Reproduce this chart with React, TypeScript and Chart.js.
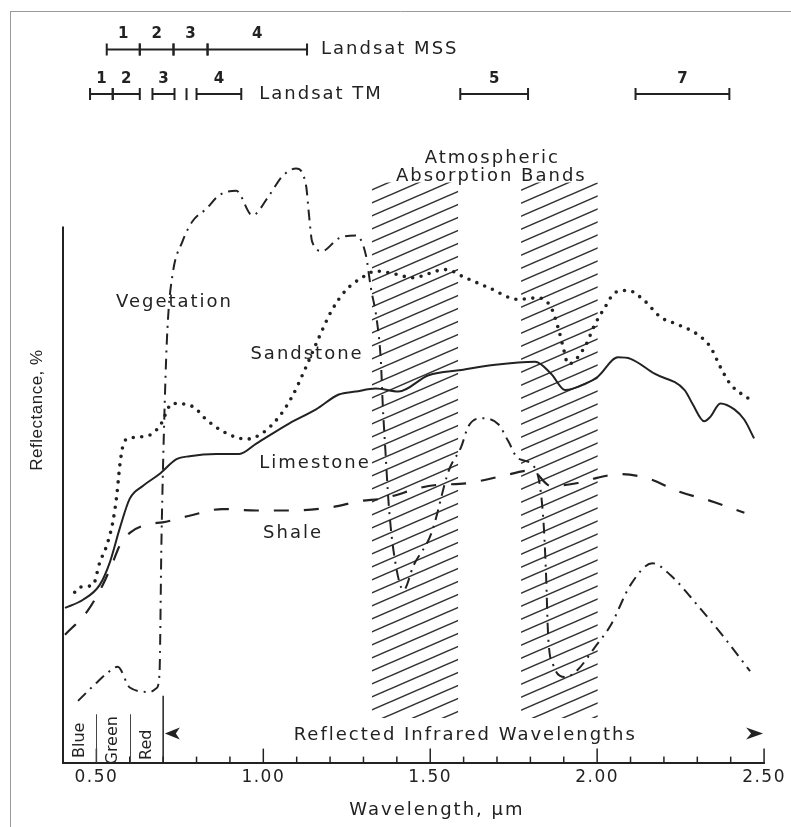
import { useEffect, useRef } from 'react';
import { Chart, registerables } from 'chart.js';

Chart.register(...registerables);

// ---------- data (wavelength in µm, reflectance in relative %) ----------
const vegWl = [0.445, 0.495, 0.534, 0.564, 0.600, 0.660, 0.680, 0.689, 0.695, 0.705, 0.713, 0.728, 0.758, 0.788, 0.830, 0.868, 0.919, 0.967, 1.018, 1.056, 1.098, 1.128, 1.137, 1.146, 1.176, 1.226, 1.277, 1.307, 1.322, 1.340, 1.352, 1.358, 1.365, 1.376, 1.392, 1.420, 1.450, 1.504, 1.555, 1.593, 1.614, 1.653, 1.704, 1.734, 1.763, 1.814, 1.838, 1.847, 1.853, 1.868, 1.904, 1.942, 1.993, 2.041, 2.100, 2.166, 2.220, 2.300, 2.381, 2.458];
const vegR = [8.3, 10.5, 12.1, 12.9, 10.1, 9.5, 10.0, 11.9, 30.0, 48.8, 58.5, 65.6, 70.1, 72.8, 74.5, 76.3, 76.9, 73.6, 76.3, 78.8, 79.9, 77.6, 73.6, 70.1, 68.8, 70.5, 70.9, 68.3, 63.9, 59.5, 54.1, 47.9, 42.5, 34.5, 27.9, 23.2, 26.5, 30.9, 39.2, 42.5, 45.2, 46.3, 45.5, 43.2, 40.9, 39.6, 33.2, 25.2, 17.2, 13.2, 11.5, 12.5, 15.5, 18.5, 23.9, 26.8, 25.2, 21.2, 16.8, 12.3];

const sandWl = [0.435, 0.451, 0.490, 0.510, 0.531, 0.549, 0.561, 0.570, 0.579, 0.591, 0.651, 0.689, 0.728, 0.788, 0.830, 0.889, 0.949, 0.997, 1.047, 1.086, 1.128, 1.167, 1.205, 1.247, 1.295, 1.337, 1.405, 1.444, 1.546, 1.605, 1.674, 1.763, 1.823, 1.862, 1.883, 1.898, 1.913, 1.963, 1.993, 2.023, 2.053, 2.092, 2.142, 2.190, 2.242, 2.300, 2.339, 2.369, 2.399, 2.458];
const sandR = [22.9, 23.6, 23.9, 26.9, 29.2, 32.3, 35.9, 39.9, 42.5, 43.5, 43.9, 45.2, 48.3, 47.9, 46.1, 44.3, 43.5, 44.3, 46.5, 49.2, 53.2, 57.2, 60.8, 63.5, 65.2, 66.1, 65.6, 65.2, 66.3, 65.2, 63.9, 62.3, 62.5, 61.2, 58.5, 55.9, 53.6, 55.9, 58.9, 61.2, 63.2, 63.5, 62.1, 59.9, 58.9, 57.6, 55.9, 53.2, 50.9, 48.8];

const limeWl = [0.406, 0.460, 0.510, 0.540, 0.570, 0.600, 0.639, 0.689, 0.740, 0.779, 0.859, 0.928, 0.979, 1.077, 1.158, 1.226, 1.277, 1.337, 1.405, 1.495, 1.593, 1.695, 1.814, 1.862, 1.904, 1.963, 2.002, 2.062, 2.100, 2.172, 2.262, 2.285, 2.321, 2.339, 2.369, 2.411, 2.441, 2.470];
const limeR = [20.8, 21.9, 23.9, 26.9, 31.5, 35.5, 37.2, 38.8, 40.8, 41.2, 41.5, 41.5, 42.9, 45.6, 47.5, 49.5, 49.9, 50.3, 49.9, 52.1, 52.8, 53.5, 53.9, 52.3, 50.1, 50.9, 51.9, 54.5, 54.3, 52.3, 50.1, 48.3, 45.9, 46.5, 48.3, 47.5, 46.1, 43.6];

const shaleWl = [0.406, 0.472, 0.519, 0.549, 0.570, 0.600, 0.660, 0.698, 0.779, 0.877, 0.979, 1.086, 1.197, 1.295, 1.355, 1.495, 1.614, 1.713, 1.802, 1.862, 1.942, 1.981, 2.071, 2.160, 2.241, 2.339, 2.441];
const shaleR = [17.2, 20.3, 23.9, 26.9, 29.2, 30.9, 32.1, 32.3, 33.2, 34.1, 33.9, 33.9, 34.3, 35.2, 35.5, 37.2, 37.6, 38.5, 39.3, 37.2, 37.6, 38.1, 38.8, 38.1, 36.5, 35.2, 33.6];

// atmospheric absorption bands (µm) and their vertical extent (reflectance units)
const BAND_START = [1.325, 1.772];
const BAND_END = [1.584, 2.002];
const BAND_TOP = 78;
const BAND_BOTTOM = 6;

// Landsat band edges (µm), as drawn in the figure
const MSS_EDGES = [0.531, 0.630, 0.731, 0.833, 1.131];
const MSS_LABELS = ['1', '2', '3', '4'];
const TM_START = [0.481, 0.549, 0.668, 0.800, 1.590, 2.115];
const TM_END = [0.549, 0.630, 0.734, 0.934, 1.793, 2.396];
const TM_LABELS = ['1', '2', '3', '4', '5', '7'];
const TM_EXTRA_TICK = 0.770;

// visible spectrum columns
const VIS_EDGES = [0.4, 0.5, 0.6, 0.7];
const VIS_LABELS = ['Blue', 'Green', 'Red'];

// axis
const X_MIN = 0.4;
const X_MAX = 2.5;
const X_STEP = 0.1;
const Y_MIN = 0;
const Y_MAX = 100;
const Y_AXIS_TOP = 72.1;

const INK = '#222';
const FONT = '"DejaVu Sans", Verdana, sans-serif';

const pts = (xs: number[], ys: number[]) => xs.map((x, i) => ({ x, y: ys[i] }));
const isMajor = (v: number) => Math.abs(v / 0.5 - Math.round(v / 0.5)) < 1e-6;

function makeHatch(): CanvasPattern | string {
  const W = 30;
  const H = 13;
  const c = document.createElement('canvas');
  c.width = W;
  c.height = H;
  const g = c.getContext('2d');
  if (!g) return 'rgba(0,0,0,0.2)';
  g.strokeStyle = '#333';
  g.lineWidth = 1.5;
  for (const dy of [-H, 0, H]) {
    g.beginPath();
    g.moveTo(-W, 2 * H + dy);
    g.lineTo(2 * W, -H + dy);
    g.stroke();
  }
  return g.createPattern(c, 'repeat') || 'rgba(0,0,0,0.2)';
}

function drawText(ctx: CanvasRenderingContext2D, s: string, x: number, y: number, font: string, spacing = '0px', align: CanvasTextAlign = 'center') {
  ctx.font = font;
  (ctx as any).letterSpacing = spacing;
  ctx.textAlign = align;
  ctx.textBaseline = 'middle';
  ctx.fillStyle = INK;
  ctx.fillText(s, x, y);
}

const figurePlugin = {
  id: 'figureAnnotations',
  beforeLayout(chart: any) {
    chart.ctx.letterSpacing = '1.5px';
  },
  beforeDraw(chart: any) {
    chart.ctx.letterSpacing = '1.5px';
  },
  afterDraw(chart: any) {
    const { ctx, chartArea, scales } = chart;
    const xs = scales.x;
    const ys = scales.y;
    const X = (v: number) => xs.getPixelForValue(v);
    const Y = (v: number) => ys.getPixelForValue(v);
    const bottom = chartArea.bottom;
    ctx.save();
    ctx.lineCap = 'butt';

    // scanned page frame
    ctx.strokeStyle = '#9a9a9a';
    ctx.lineWidth = 1;
    ctx.beginPath();
    ctx.moveTo(10, 11.5);
    ctx.lineTo(791, 11.5);
    ctx.moveTo(10.5, 11);
    ctx.lineTo(10.5, 827);
    ctx.stroke();

    // y axis line
    ctx.strokeStyle = INK;
    ctx.lineWidth = 2;
    ctx.beginPath();
    ctx.moveTo(chartArea.left, Y(Y_AXIS_TOP));
    ctx.lineTo(chartArea.left, bottom + 1);
    ctx.stroke();

    // inward tick marks
    ctx.lineWidth = 1.5;
    xs.ticks.forEach((t: any, i: number) => {
      if (i === 0) return;
      const p = X(t.value);
      const len = isMajor(t.value) ? 14 : 6;
      ctx.beginPath();
      ctx.moveTo(p, bottom);
      ctx.lineTo(p, bottom - len);
      ctx.stroke();
    });

    // visible spectrum columns
    ctx.strokeStyle = '#444';
    ctx.lineWidth = 1;
    for (let i = 1; i < VIS_EDGES.length - 1; i++) {
      const p = Math.round(X(VIS_EDGES[i])) + 0.5;
      ctx.beginPath();
      ctx.moveTo(p, Y(6.5));
      ctx.lineTo(p, bottom);
      ctx.stroke();
    }
    ctx.strokeStyle = INK;
    ctx.lineWidth = 1.5;
    const redEdge = X(VIS_EDGES[3]);
    ctx.beginPath();
    ctx.moveTo(redEdge, Y(9));
    ctx.lineTo(redEdge, bottom);
    ctx.stroke();
    VIS_LABELS.forEach((lab, i) => {
      const cx = (X(VIS_EDGES[i]) + X(VIS_EDGES[i + 1])) / 2;
      ctx.save();
      ctx.translate(cx, Y(i === 2 ? 2.4 : 3.0));
      ctx.rotate(-Math.PI / 2);
      drawText(ctx, lab, 0, 0, `16px ${FONT}`);
      ctx.restore();
    });

    // reflected infrared arrows and text
    const ay = Y(3.9);
    const lt = X(0.705);
    const rt = X(X_MAX) - 1;
    ctx.fillStyle = INK;
    ctx.beginPath();
    ctx.moveTo(lt, ay);
    ctx.lineTo(lt + 15, ay - 6);
    ctx.lineTo(lt + 11, ay);
    ctx.lineTo(lt + 15, ay + 6);
    ctx.closePath();
    ctx.fill();
    ctx.beginPath();
    ctx.moveTo(rt, ay);
    ctx.lineTo(rt - 17, ay - 6);
    ctx.lineTo(rt - 12, ay);
    ctx.lineTo(rt - 17, ay + 6);
    ctx.closePath();
    ctx.fill();
    drawText(ctx, 'Reflected Infrared Wavelengths', X(1.605), Y(3.7), `18px ${FONT}`, '2px');

    // curve labels
    drawText(ctx, 'Vegetation', X(0.734), Y(61.9), `18px ${FONT}`, '2px');
    drawText(ctx, 'Sandstone', X(1.131), Y(54.9), `18px ${FONT}`, '2px');
    drawText(ctx, 'Limestone', X(1.155), Y(40.3), `18px ${FONT}`, '2px');
    drawText(ctx, 'Shale', X(1.089), Y(30.8), `18px ${FONT}`, '2px');
    drawText(ctx, 'Atmospheric', X(1.686), Y(81.2), `18px ${FONT}`, '2px');
    drawText(ctx, 'Absorption Bands', X(1.683), Y(78.9), `18px ${FONT}`, '2px');

    // Landsat band bars
    const bar = (a: number, b: number, y: number) => {
      ctx.strokeStyle = INK;
      ctx.lineWidth = 2;
      ctx.beginPath();
      ctx.moveTo(X(a), y);
      ctx.lineTo(X(b), y);
      ctx.moveTo(X(a), y - 6);
      ctx.lineTo(X(a), y + 6);
      ctx.moveTo(X(b), y - 6);
      ctx.lineTo(X(b), y + 6);
      ctx.stroke();
    };
    const mssY = Y(95.9);
    const mssLabY = Y(98.0);
    for (let i = 0; i < MSS_LABELS.length; i++) {
      bar(MSS_EDGES[i], MSS_EDGES[i + 1], mssY);
      drawText(ctx, MSS_LABELS[i], (X(MSS_EDGES[i]) + X(MSS_EDGES[i + 1])) / 2, mssLabY, `bold 15px ${FONT}`);
    }
    drawText(ctx, 'Landsat MSS', X(MSS_EDGES[MSS_EDGES.length - 1]) + 14, mssY, `18px ${FONT}`, '2px', 'left');

    const tmY = Y(89.9);
    const tmLabY = Y(91.9);
    for (let i = 0; i < TM_LABELS.length; i++) {
      bar(TM_START[i], TM_END[i], tmY);
      drawText(ctx, TM_LABELS[i], (X(TM_START[i]) + X(TM_END[i])) / 2, tmLabY, `bold 15px ${FONT}`);
    }
    ctx.beginPath();
    ctx.moveTo(X(TM_EXTRA_TICK), tmY - 6);
    ctx.lineTo(X(TM_EXTRA_TICK), tmY + 6);
    ctx.stroke();
    drawText(ctx, 'Landsat TM', X(TM_END[3]) + 18, tmY, `18px ${FONT}`, '2px', 'left');

    // axis titles
    drawText(ctx, 'Wavelength, \u00b5m', X(1.52), bottom + 48, `18px ${FONT}`, '2px');
    ctx.save();
    ctx.translate(37, 410);
    ctx.rotate(-Math.PI / 2);
    drawText(ctx, 'Reflectance, %', 0, 0, `17px "Liberation Sans Narrow", "Liberation Sans", sans-serif`, '0.5px');
    ctx.restore();

    ctx.restore();
  },
};

export default function App() {
  const ref = useRef<HTMLCanvasElement>(null);

  useEffect(() => {
    const canvas = ref.current;
    if (!canvas) return;
    const hatch = makeHatch();
    const curve = {
      borderColor: INK,
      pointRadius: 0,
      fill: false,
      cubicInterpolationMode: 'monotone' as const,
      order: 1,
    };
    const bandSets = BAND_START.map((s, i) => ({
      label: `Absorption band ${i + 1}`,
      data: [
        { x: s, y: BAND_TOP },
        { x: BAND_END[i], y: BAND_TOP },
      ],
      borderColor: 'rgba(0,0,0,0)',
      borderWidth: 0,
      backgroundColor: hatch,
      fill: { value: BAND_BOTTOM },
      pointRadius: 0,
      order: 10,
    }));

    const chart = new Chart(canvas, {
      type: 'line',
      data: {
        datasets: [
          ...bandSets,
          { ...curve, label: 'Vegetation', data: pts(vegWl, vegR), borderWidth: 2, borderDash: [11, 6, 2, 6] },
          { ...curve, label: 'Sandstone', data: pts(sandWl, sandR), borderWidth: 3.6, borderDash: [0, 8.5], borderCapStyle: 'round' },
          { ...curve, label: 'Limestone', data: pts(limeWl, limeR), borderWidth: 2 },
          { ...curve, label: 'Shale', data: pts(shaleWl, shaleR), borderWidth: 2.2, borderDash: [15, 15] },
        ] as any,
      },
      options: {
        responsive: false,
        animation: false,
        devicePixelRatio: 1,
        layout: { padding: { left: 63, right: 24, top: 19, bottom: 34 } },
        plugins: {
          legend: { display: false },
          tooltip: { enabled: false },
          title: { display: false },
        },
        scales: {
          x: {
            type: 'linear',
            min: X_MIN,
            max: X_MAX,
            grid: { display: false, drawTicks: false },
            border: { display: true, color: INK, width: 2 },
            ticks: {
              stepSize: X_STEP,
              autoSkip: false,
              maxRotation: 0,
              minRotation: 0,
              padding: 5,
              color: INK,
              font: { family: FONT, size: 17 },
              callback: (v: any) => (Number(v) >= 0.5 && isMajor(Number(v)) ? Number(v).toFixed(2) : ''),
            },
          },
          y: { type: 'linear', display: false, min: Y_MIN, max: Y_MAX },
        },
      },
      plugins: [figurePlugin],
    });
    return () => chart.destroy();
  }, []);

  return (
    <canvas
      ref={ref}
      width={791}
      height={827}
      style={{ position: 'fixed', left: 0, top: 0, width: 791, height: 827, background: '#fff' }}
    />
  );
}
